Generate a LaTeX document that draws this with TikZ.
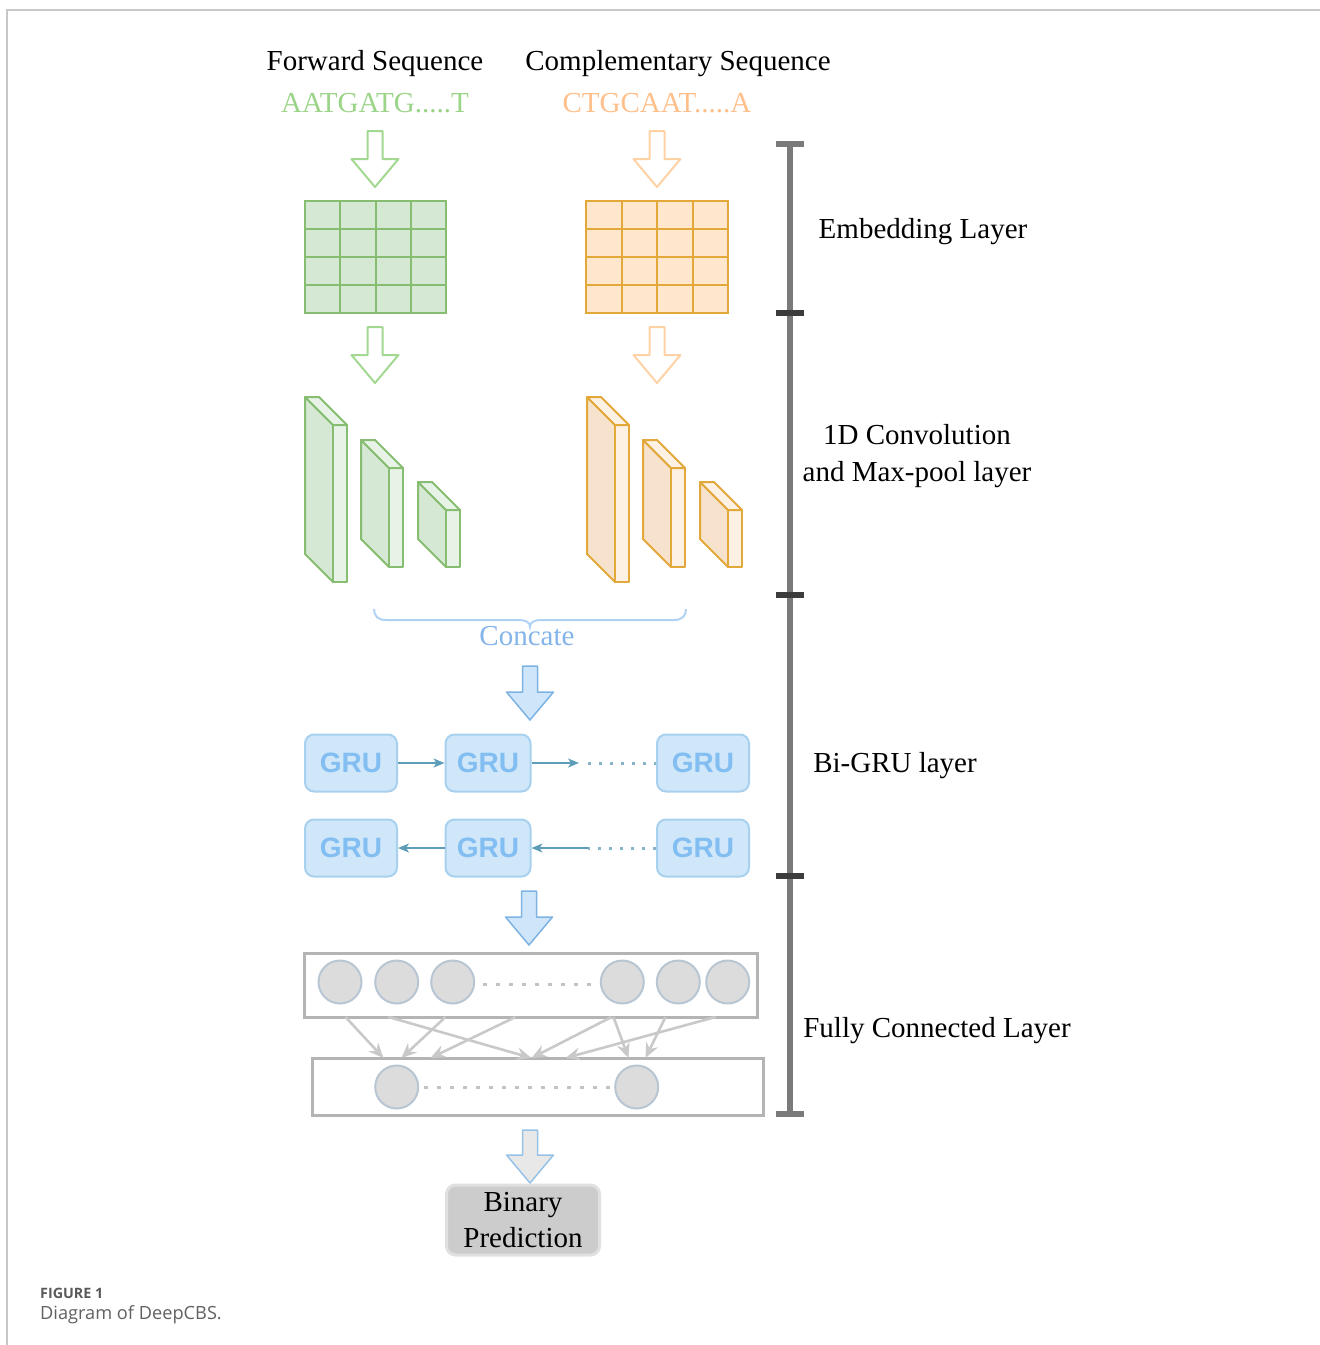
\documentclass[tikz,border=0pt]{standalone}
\usepackage{fontspec}
\setmainfont{Liberation Serif}
\newfontfamily\grufont{Liberation Sans}
\newfontfamily\capfont{Open Sans}
\usetikzlibrary{arrows.meta}
\definecolor{gtext}{HTML}{9BD488}
\definecolor{otext}{HTML}{FFBF8A}
\definecolor{gline}{HTML}{86BD70}
\definecolor{oline}{HTML}{E2A83A}
\definecolor{gfillA}{HTML}{D5E8D4}
\definecolor{gfillB}{HTML}{E8F3E7}
\definecolor{ofillA}{HTML}{F7E3CD}
\definecolor{ofillB}{HTML}{FDF1E4}
\definecolor{ogrid}{HTML}{FFE6CC}
\definecolor{garrow}{HTML}{A3D891}
\definecolor{oarrow}{HTML}{FFD2A6}
\definecolor{bluetxt}{HTML}{84B4EA}
\definecolor{bracec}{HTML}{AFD2F5}
\definecolor{grufill}{HTML}{CFE7F8}
\definecolor{gruline}{HTML}{A8D1EF}
\definecolor{grutxt}{HTML}{83BEF2}
\definecolor{gruarr}{HTML}{5E9DB8}
\definecolor{barfill}{HTML}{CFE5FA}
\definecolor{barline}{HTML}{7DB3E2}
\definecolor{fcline}{HTML}{B4B4B4}
\definecolor{fcarr}{HTML}{C9C9C9}
\definecolor{cfill}{HTML}{DCDCDC}
\definecolor{cline}{HTML}{B8C6D3}
\definecolor{scalec}{HTML}{7A7A7A}
\definecolor{tickc}{HTML}{3C3C3C}
\newcommand\blockarr[4]{%
  \draw[#1] (#2-7.5,#3) -- (#2+7.5,#3) -- (#2+7.5,#4-28) -- (#2+23.5,#4-28)
    -- (#2,#4) -- (#2-23.5,#4-28) -- (#2-7.5,#4-28) -- cycle;}
% slab: #1 x0, #2 y0, #3 h, #4 fillA, #5 fillB, #6 stroke
\newcommand\slab[6]{%
  \draw[#6, line width=2pt, line join=round, fill=#4]
    (#1,#2) -- (#1+28,#2+28) -- (#1+28,#2+28+#3) -- (#1,#2+#3) -- cycle;
  \draw[#6, line width=2pt, line join=round, fill=#5]
    (#1+28,#2+28) rectangle (#1+42,#2+28+#3);
  \draw[#6, line width=2pt, line join=round, fill=#5]
    (#1,#2) -- (#1+14,#2) -- (#1+42,#2+28) -- (#1+28,#2+28) -- cycle;}
\tikzset{
  lbl/.style={font=\fontsize{29}{36}\selectfont, text=black, inner sep=0pt, anchor=base},
  seq/.style={font=\fontsize{29}{36}\selectfont, inner sep=0pt, anchor=base},
  grubox/.style={draw=gruline, fill=grufill, line width=2pt, rounded corners=9pt,
    minimum height=57pt, inner sep=0pt, text=grutxt,
    font=\grufont\bfseries\fontsize{28}{30}\selectfont},
  gruarrow/.style={draw=gruarr, line width=1.6pt, -{Stealth[length=11pt,width=9pt,inset=3pt]}},
  grudots/.style={draw=gruarr!75, line width=3pt, dash pattern=on 3pt off 8pt},
  neuron/.style={circle, draw=cline, fill=cfill, line width=2pt, minimum size=43pt, inner sep=0pt},
  layerbox/.style={draw=fcline, line width=3pt, inner sep=0pt},
  fcarrow/.style={draw=fcarr, line width=2.6pt, -{Stealth[length=15pt,width=13pt,inset=5pt]}},
  fcdots/.style={draw=fcline!80, line width=3pt, dash pattern=on 4pt off 9pt},
  scalebar/.style={draw=scalec, line width=6pt},
  ticks/.style={draw=tickc, line width=6pt},
}
\begin{document}
\begin{tikzpicture}[x=1pt,y=-1pt]
\useasboundingbox (0,0) rectangle (1320,1345);
% frame
\draw[draw=black!22, line width=1.5pt] (7,1345) -- (7,10) -- (1320,10);

% titles
\node[lbl] (fwd) at (375,70) {Forward Sequence};
\node[lbl] (cmp) at (678,70) {Complementary Sequence};
\node[seq, text=gtext] (fseq) at (375,112) {AATGATG.....T};
\node[seq, text=otext] (cseq) at (657,112) {CTGCAAT.....A};

% hollow arrows
\blockarr{draw=garrow, line width=2pt, line join=round, fill=white}{375}{131}{187}
\blockarr{draw=oarrow, line width=2pt, line join=round, fill=white}{657}{131}{187}
\blockarr{draw=garrow, line width=2pt, line join=round, fill=white}{375}{327}{383}
\blockarr{draw=oarrow, line width=2pt, line join=round, fill=white}{657}{327}{383}

% embedding grids
\node[draw=gline, fill=gfillA, line width=2pt, minimum width=141pt, minimum height=112pt, inner sep=0pt] (gg) at (375.5,257) {};
\foreach \i in {1,2,3} {
  \draw[gline, line width=2pt] (305+35.25*\i,201) -- (305+35.25*\i,313);
  \draw[gline, line width=2pt] (305,201+28*\i) -- (446,201+28*\i);
}
\node[draw=oline, fill=ogrid, line width=2pt, minimum width=142pt, minimum height=112pt, inner sep=0pt] (og) at (657,257) {};
\foreach \i in {1,2,3} {
  \draw[oline, line width=2pt] (586+35.5*\i,201) -- (586+35.5*\i,313);
  \draw[oline, line width=2pt] (586,201+28*\i) -- (728,201+28*\i);
}

% conv slabs
\slab{305}{397}{157}{gfillA}{gfillB}{gline}
\slab{361}{440}{99}{gfillA}{gfillB}{gline}
\slab{418}{482}{57}{gfillA}{gfillB}{gline}
\slab{587}{397}{157}{ofillA}{ofillB}{oline}
\slab{643}{440}{99}{ofillA}{ofillB}{oline}
\slab{700}{482}{57}{ofillA}{ofillB}{oline}

% concat brace
\draw[bracec, line width=2pt] (374,609) .. controls (374,616) and (378,620) .. (386,620)
  -- (518,620) .. controls (526,620) and (530,622) .. (530,627)
  .. controls (530,622) and (534,620) .. (542,620) -- (674,620)
  .. controls (682,620) and (686,616) .. (686,609);
\node[seq, text=bluetxt] (cc) at (527,645) {Concate};

% blue arrows
\blockarr{draw=barline, line width=1.5pt, line join=round, fill=barfill}{530}{666}{720}
\blockarr{draw=barline, line width=1.5pt, line join=round, fill=barfill}{529}{891}{945}

% GRU boxes
\node[grubox, minimum width=92pt] (g11) at (351,763) {GRU};
\node[grubox, minimum width=85pt] (g12) at (488,763) {GRU};
\node[grubox, minimum width=92pt] (g13) at (703,763) {GRU};
\node[grubox, minimum width=92pt] (g21) at (351,848) {GRU};
\node[grubox, minimum width=85pt] (g22) at (488,848) {GRU};
\node[grubox, minimum width=92pt] (g23) at (703,848) {GRU};
\coordinate (f1) at (579,763);
\coordinate (f2) at (588,763);
\coordinate (b1) at (588,848);
\draw[gruarrow] (g11) -- (g12);
\draw[gruarrow] (g12) -- (f1);
\draw[grudots] (f2) -- (g13.west);
\draw[grudots] (g23.west) -- (b1);
\draw[gruarrow] (b1) -- (g22);
\draw[gruarrow] (g22) -- (g21);

% fully connected
\node[layerbox, minimum width=453pt, minimum height=64pt] (fc1) at (530.5,985) {};
\node[layerbox, minimum width=451pt, minimum height=57pt] (fc2) at (537.5,1086.5) {};
\node[neuron] (n1) at (340,982) {};
\node[neuron] (n2) at (396.7,982) {};
\node[neuron] (n3) at (452.7,982) {};
\node[neuron] (n4) at (622.3,982) {};
\node[neuron] (n5) at (678.3,982) {};
\node[neuron] (n6) at (727.7,982) {};
\draw[fcdots] ([xshift=8pt,yshift=-2pt]n3.east) -- ([yshift=-2pt]n4.west);
\node[neuron] (m1) at (396.7,1087) {};
\node[neuron] (m2) at (636.7,1087) {};
\draw[fcdots] ([xshift=5pt]m1.east) -- (m2.west);
\foreach \a/\b in {43/73, 143/91, 86/221, 213/120, 309/221, 311/318, 363/335, 413/255} {
  \draw[fcarrow] ([xshift=\a pt, yshift=1.5pt]fc1.south west) -- ([xshift=\b pt, yshift=-1.5pt]fc2.north west);
}

% output arrow and box
\blockarr{draw=barline!80, line width=1.5pt, line join=round, fill=black!9}{530}{1130}{1183}
\node[draw=black!12, fill=black!20, line width=3pt, rounded corners=9pt,
  minimum width=153pt, minimum height=70pt, inner sep=0pt, align=center,
  font=\fontsize{29}{36}\selectfont] (bp) at (523,1220) {Binary\\Prediction};

% scale bar
\draw[scalebar] (790,144) -- (790,1114);
\draw[scalebar] (776,144) -- (804,144);
\draw[scalebar] (776,1114) -- (804,1114);
\foreach \t in {313,595,876} \draw[ticks] (776,\t) -- (804,\t);

% layer labels
\node[lbl] (l1) at (923,238) {Embedding Layer};
\node[lbl] (l2a) at (917,444) {1D Convolution};
\node[lbl] (l2b) at (917,481) {and Max-pool layer};
\node[lbl] (l3) at (895,772) {Bi-GRU layer};
\node[lbl] (l4) at (937,1037) {Fully Connected Layer};

% caption
\node[anchor=base west, inner sep=0pt, text=black!65, font=\capfont\bfseries\fontsize{14.3}{16}\selectfont] (cap1) at (40,1298) {FIGURE 1};
\node[anchor=base west, inner sep=0pt, text=black!62, font=\capfont\fontsize{18.2}{20}\selectfont] (cap2) at (40,1319) {Diagram of DeepCBS.};
\end{tikzpicture}
\end{document}
